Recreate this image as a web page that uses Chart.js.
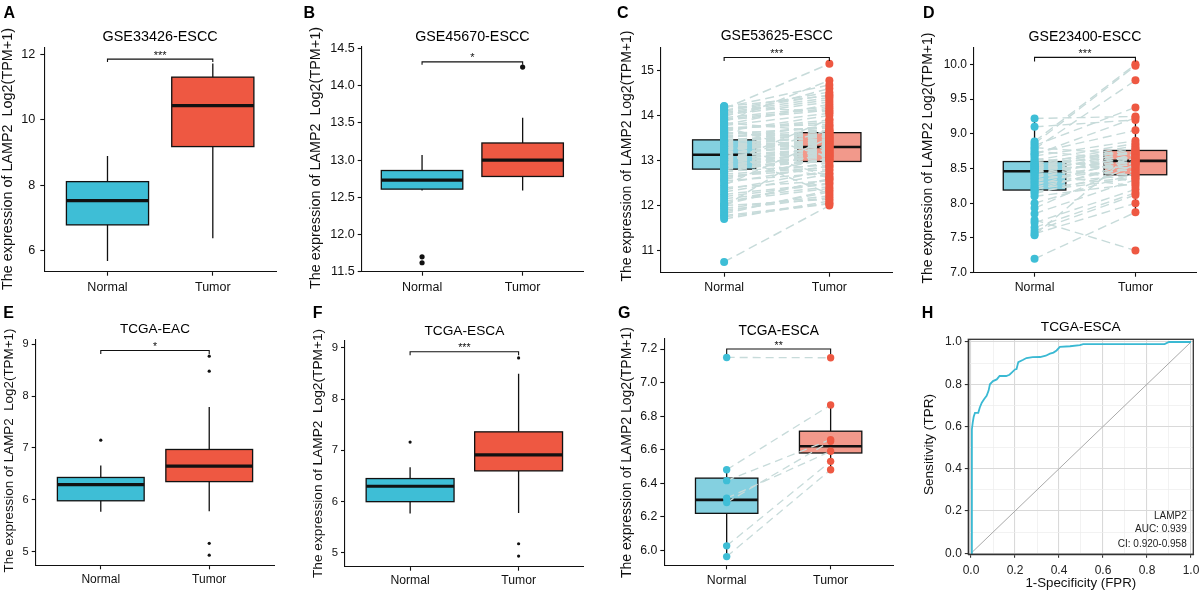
<!DOCTYPE html>
<html lang="en"><head><meta charset="utf-8"><title>LAMP2 expression</title>
<script src="https://cdn.jsdelivr.net/npm/chart.js@4.4.1/dist/chart.umd.min.js"></script>
<style>
html,body{margin:0;padding:0;background:#fff;}
#fig{position:relative;width:1200px;height:593px;overflow:hidden;background:#fff;}
#fig canvas{position:absolute;}
</style></head><body><div id="fig"></div><script>
const FONT = "'Liberation Sans', Arial, Helvetica, sans-serif";
const categories = ['Normal', 'Tumor'];
const categoryPos = [1, 2];

// ---------- Panel A ----------
const titleA = 'GSE33426-ESCC';
const yTicksA = [6, 8, 10, 12];
const yLabelsA = ['6', '8', '10', '12'];
const statsNormalA = [5.69, 6.79, 7.53, 8.11, 8.89];   // whisker low, Q1, median, Q3, whisker high
const statsTumorA = [6.38, 9.18, 10.43, 11.30, 11.72];
const outNormalA = [];
const outTumorA = [];
const sigA = ['***', 11.85, 11.76];

// ---------- Panel B ----------
const titleB = 'GSE45670-ESCC';
const yTicksB = [11.5, 12.0, 12.5, 13.0, 13.5, 14.0, 14.5];
const yLabelsB = ['11.5', '12.0', '12.5', '13.0', '13.5', '14.0', '14.5'];
const statsNormalB = [12.59, 12.61, 12.73, 12.86, 13.07];
const statsTumorB = [12.59, 12.78, 13.00, 13.23, 13.57];
const outNormalB = [11.70, 11.62];
const outTumorB = [14.25];
const sigB = ['*', 14.32, 14.28];

// ---------- Panel C (paired) ----------
const titleC = 'GSE53625-ESCC';
const yTicksC = [11, 12, 13, 14, 15];
const yLabelsC = ['11', '12', '13', '14', '15'];
const statsNormalC = [11.70, 12.81, 13.13, 13.46, 14.21];
const statsTumorC = [12.00, 12.98, 13.30, 13.62, 14.46];
const pairNormalC = [10.75, 11.70, 11.75, 11.82, 11.90, 11.98, 12.05, 12.15, 12.25, 12.35, 12.45, 12.55, 12.62, 12.70, 12.76,
  12.82, 12.84, 12.86, 12.88, 12.90, 12.93, 12.95, 12.97, 13.00, 13.02, 13.04, 13.06, 13.08, 13.10, 13.12,
  13.15, 13.17, 13.19, 13.21, 13.24, 13.26, 13.28, 13.31, 13.33, 13.35, 13.37, 13.39, 13.41, 13.43, 13.45,
  13.50, 13.55, 13.60, 13.65, 13.70, 13.75, 13.80, 13.86, 13.92, 13.98, 14.04, 14.10, 14.15, 14.18, 14.21,
  11.78, 11.86, 11.94, 12.02, 12.10, 12.20, 12.30, 12.40, 12.50, 12.58, 12.66, 12.74, 12.80, 12.85, 12.92,
  12.99, 13.05, 13.11, 13.16, 13.22, 13.27, 13.32, 13.38, 13.44, 13.48, 13.53, 13.58, 13.63, 13.68, 13.73,
  13.78, 13.84, 13.90, 13.95, 14.01, 14.07, 14.12, 14.20, 12.00, 13.00];
const pairTumorC = [12.00, 12.10, 12.04, 12.34, 12.18, 13.41, 12.58, 12.42, 12.50, 12.78, 13.50, 12.72, 12.95, 12.85, 12.90,
  13.03, 12.99, 13.01, 13.10, 13.06, 13.92, 13.16, 13.12, 13.14, 13.22, 13.18, 13.20, 13.28, 13.24, 13.26,
  13.35, 13.31, 13.33, 12.26, 13.37, 13.39, 13.48, 13.43, 13.45, 13.54, 12.65, 13.52, 13.61, 13.56, 13.58,
  13.78, 13.66, 13.72, 14.00, 13.85, 13.08, 14.25, 14.78, 14.16, 14.60, 14.35, 14.46, 15.15, 14.68, 14.08,
  12.05, 12.30, 12.22, 12.60, 12.38, 12.48, 12.70, 12.55, 12.88, 13.05, 12.80, 13.15, 13.00, 13.25, 13.10,
  13.30, 13.20, 12.62, 13.36, 13.44, 13.40, 13.55, 13.30, 13.66, 13.46, 13.60, 13.75, 13.50, 13.90, 13.80,
  14.05, 13.64, 14.12, 14.20, 14.30, 14.40, 14.52, 14.44, 12.14, 13.68];
const sigC = ['***', 15.29, 15.21];

// ---------- Panel D (paired) ----------
const titleD = 'GSE23400-ESCC';
const yTicksD = [7.0, 7.5, 8.0, 8.5, 9.0, 9.5, 10.0];
const yLabelsD = ['7.0', '7.5', '8.0', '8.5', '9.0', '9.5', '10.0'];
const statsNormalD = [7.56, 8.19, 8.46, 8.60, 9.22];
const statsTumorD = [7.87, 8.41, 8.61, 8.76, 9.25];
const pairNormalD = [9.22, 9.10, 8.89, 8.86, 8.83, 8.80, 8.78, 8.75, 8.72, 8.70, 8.68, 8.65, 8.62, 8.60, 8.58,
  8.57, 8.56, 8.55, 8.54, 8.53, 8.52, 8.51, 8.50, 8.49, 8.48, 8.47, 8.46, 8.45, 8.44, 8.42,
  8.40, 8.38, 8.36, 8.34, 8.31, 8.29, 8.26, 8.23, 8.21, 8.19, 8.17, 8.14, 8.10, 8.00, 7.93,
  7.85, 7.76, 7.72, 7.65, 7.60, 7.56, 7.54, 7.20];
const pairTumorD = [9.25, 9.20, 10.00, 9.98, 9.38, 8.70, 9.77, 8.62, 9.05, 9.23, 8.90, 8.45, 8.86, 8.74, 8.66,
  8.31, 8.83, 8.58, 8.72, 8.80, 8.51, 8.64, 8.78, 8.55, 8.69, 8.60, 8.41, 8.75, 8.63, 8.25,
  8.68, 8.57, 8.71, 8.49, 8.61, 8.40, 8.65, 8.53, 8.38, 8.59, 8.36, 8.47, 8.28, 8.43, 8.56,
  8.34, 7.32, 8.20, 8.15, 8.12, 8.00, 8.76, 7.87];
const sigD = ['***', 10.10, 10.04];

// ---------- Panel E ----------
const titleE = 'TCGA-EAC';
const yTicksE = [5, 6, 7, 8, 9];
const yLabelsE = ['5', '6', '7', '8', '9'];
const statsNormalE = [5.77, 5.98, 6.29, 6.43, 6.66];
const statsTumorE = [5.78, 6.35, 6.65, 6.97, 7.79];
const outNormalE = [7.15];
const outTumorE = [8.77, 8.48, 5.16, 4.93];
const sigE = ['*', 8.88, 8.81];

// ---------- Panel F ----------
const titleF = 'TCGA-ESCA';
const yTicksF = [5, 6, 7, 8, 9];
const yLabelsF = ['5', '6', '7', '8', '9'];
const statsNormalF = [5.77, 6.00, 6.30, 6.45, 6.67];
const statsTumorF = [5.78, 6.60, 6.91, 7.36, 8.49];
const outNormalF = [7.16];
const outTumorF = [8.80, 5.18, 4.94];
const sigF = ['***', 8.92, 8.85];

// ---------- Panel G (paired) ----------
const titleG = 'TCGA-ESCA';
const yTicksG = [6.0, 6.2, 6.4, 6.6, 6.8, 7.0, 7.2];
const yLabelsG = ['6.0', '6.2', '6.4', '6.6', '6.8', '7.0', '7.2'];
const statsNormalG = [5.96, 6.22, 6.30, 6.43, 6.48];
const statsTumorG = [6.48, 6.58, 6.62, 6.71, 6.87];
const pairNormalG = [7.15, 6.48, 6.415, 6.31, 6.285, 6.026, 5.962];
const pairTumorG = [7.148, 6.866, 6.66, 6.59, 6.65, 6.53, 6.48];
const sigG = ['**', 7.20, 7.17];

// ---------- Panel H (ROC) ----------
const titleH = 'TCGA-ESCA';
const fprH = [0, 0.004, 0.004, 0.008, 0.012, 0.018, 0.025, 0.033, 0.04, 0.049, 0.06, 0.071, 0.08, 0.086, 0.1, 0.117, 0.13, 0.16, 0.175, 0.185, 0.2, 0.207, 0.215, 0.235, 0.252, 0.28, 0.314, 0.34, 0.359, 0.375, 0.389, 0.404, 0.45, 0.495, 0.51, 0.6, 0.8, 0.88, 0.9, 0.95, 1.0];
const tprH = [0, 0.1, 0.587, 0.62, 0.645, 0.665, 0.665, 0.665, 0.69, 0.713, 0.73, 0.745, 0.77, 0.80, 0.815, 0.823, 0.839, 0.839, 0.845, 0.855, 0.87, 0.872, 0.905, 0.915, 0.924, 0.928, 0.929, 0.935, 0.945, 0.95, 0.96, 0.977, 0.98, 0.985, 0.99, 0.99, 0.99, 0.99, 1.0, 1.0, 1.0];
const diagX = [0, 1];
const diagY = [0, 1];
const rocTicks = [0, 0.1, 0.2, 0.3, 0.4, 0.5, 0.6, 0.7, 0.8, 0.9, 1.0];
const rocLabels = ['0.0', '', '0.2', '', '0.4', '', '0.6', '', '0.8', '', '1.0'];
const rocLegend = ['LAMP2', 'AUC: 0.939', 'CI: 0.920-0.958'];

const yTitleDouble = 'The expression of LAMP2  Log2(TPM+1)';
const yTitleSingle = 'The expression of LAMP2 Log2(TPM+1)';

// ---------- styles & layout ----------
const C_NORMAL = '#3ebed6';
const C_TUMOR = '#ee5842';
const C_NORMAL_SOFT = '#84d0e0';
const C_TUMOR_SOFT = '#f2998b';
const C_PAIR = '#c7dbda';
const C_ROC = '#3ab9d3';

const layout = {
  A: {col:0,row:0,L:44.3,T:48,R:276,B:271.7,yMin:5.36,yMax:12.19,boxW:0.78,fTick:12.6,fX:12.5,fTitle:14.4,titleCY:37,xLabCY:287.7,fY:14.4,yT:[8,159],letter:[3.5,18.3],star:11,outR:0,soft:false,tickPad:5},
  B: {col:1,row:0,L:61.7,T:47,R:283,B:271.7,yMin:11.5,yMax:14.52,boxW:0.81,fTick:12.6,fX:12.5,fTitle:14.3,titleCY:36.7,xLabCY:287.7,fY:14.4,yT:[16.5,158],letter:[3.5,18.3],star:11,outR:2.6,soft:false,tickPad:3},
  C: {col:2,row:0,L:61,T:48,R:292.5,B:272.7,yMin:10.51,yMax:15.5,boxW:0.6,fTick:12,fX:12.3,fTitle:14,titleCY:36,xLabCY:288,fY:14,yT:[27.5,156],letter:[17,18.3],star:11,ptR:4,soft:true,tickPad:3,dash:[9,5],pairW:1.5},
  D: {col:3,row:0,L:74,T:48,R:296.4,B:272.7,yMin:7.0,yMax:10.235,boxW:0.62,fTick:12,fX:12.3,fTitle:14.1,titleCY:37,xLabCY:288,fY:14,yT:[28,158],letter:[23,18.3],star:11,ptR:4,soft:true,tickPad:3,dash:[9,5],pairW:1.4},
  E: {col:0,row:1,L:35.7,T:43.3,R:274.3,B:269.3,yMin:4.735,yMax:9.096,boxW:0.8,fTick:11,fX:12,fTitle:13.5,titleCY:33.7,xLabCY:283.3,fY:13.4,yT:[9,154.5],letter:[3.3,21.7],star:10.5,outR:1.6,soft:false,tickPad:3},
  F: {col:1,row:1,L:45,T:45,R:283.7,B:270.7,yMin:4.733,yMax:9.13,boxW:0.81,fTick:11.3,fX:12.2,fTitle:13.7,titleCY:35,xLabCY:285,fY:13.7,yT:[18,157.5],letter:[12.7,21.7],star:10.5,outR:1.6,soft:false,tickPad:3},
  G: {col:2,row:1,L:64.3,T:43,R:293,B:269.3,yMin:5.91,yMax:7.26,boxW:0.6,fTick:12.3,fX:12.3,fTitle:13.8,titleCY:35.3,xLabCY:284.3,fY:14,yT:[27,156.5],letter:[18,21.7],star:10.5,ptR:3.7,soft:true,tickPad:3,dash:[8,5],pairW:1.3},
  H: {col:3,row:1,L:68.3,T:43.3,R:293.3,B:258.3,xMin:-0.0123,xMax:1.0105,yMin:-0.0047,yMax:1.0128,fTick:12,fTitle:13.7,titleCY:31.3,xLabCY:275,fY:13.6,yT:[29,148.5],xT:[180.8,287.5],fXT:13.3,letter:[21.7,21.7],legendX:286.7,legendY:[220,233.3,248.3],fLeg:10,tickPad:3}
};
const PANEL_W = 300;
const rowTop = [0, 296];
const rowH = [296, 297];
const TICK_LEN = 4;

// ---------- plugins ----------
function textPlugin(items) {
  return { id: 'texts', afterDraw(chart) {
    const ctx = chart.ctx;
    items.forEach(t => {
      ctx.save();
      ctx.font = (t.bold ? 'bold ' : '') + t.size + 'px ' + FONT;
      ctx.fillStyle = t.color || '#000';
      ctx.textAlign = t.align || 'left';
      ctx.textBaseline = t.baseline || 'alphabetic';
      ctx.translate(t.x, t.y);
      if (t.rot) ctx.rotate(t.rot);
      ctx.fillText(t.text, 0, 0);
      ctx.restore();
    });
  }};
}

function boxPlugin(boxes, width, lw, medLw) {
  return { id: 'boxes', beforeDatasetsDraw(chart) {
    const {ctx, scales: {x, y}} = chart;
    ctx.save();
    boxes.forEach(b => {
      const xc = x.getPixelForValue(b.pos);
      const xl = x.getPixelForValue(b.pos - width / 2);
      const xr = x.getPixelForValue(b.pos + width / 2);
      const [lo, q1, med, q3, hi] = b.stats.map(v => y.getPixelForValue(v));
      ctx.strokeStyle = '#111';
      ctx.lineWidth = lw;
      ctx.beginPath();
      ctx.moveTo(xc, hi); ctx.lineTo(xc, q3);
      ctx.moveTo(xc, q1); ctx.lineTo(xc, lo);
      ctx.stroke();
      ctx.fillStyle = b.fill;
      ctx.fillRect(xl, q3, xr - xl, q1 - q3);
      ctx.strokeRect(xl, q3, xr - xl, q1 - q3);
      ctx.lineWidth = medLw;
      ctx.beginPath();
      ctx.moveTo(xl, med); ctx.lineTo(xr, med);
      ctx.stroke();
    });
    ctx.restore();
  }};
}

function sigPlugin(sig, fStar) {
  return { id: 'sig', afterDatasetsDraw(chart) {
    const {ctx, scales: {x, y}} = chart;
    const x1 = x.getPixelForValue(categoryPos[0]), x2 = x.getPixelForValue(categoryPos[1]);
    const yb = y.getPixelForValue(sig[1]), yt = y.getPixelForValue(sig[2]);
    ctx.save();
    ctx.strokeStyle = '#111';
    ctx.lineWidth = 1.1;
    ctx.beginPath();
    ctx.moveTo(x1, yt); ctx.lineTo(x1, yb); ctx.lineTo(x2, yb); ctx.lineTo(x2, yt);
    ctx.stroke();
    ctx.font = fStar + 'px ' + FONT;
    ctx.fillStyle = '#111';
    ctx.textAlign = 'center';
    ctx.textBaseline = 'alphabetic';
    ctx.fillText(sig[0], (x1 + x2) / 2, yb - 0.5);
    ctx.restore();
  }};
}

function framePlugin() {
  return { id: 'frame', afterDatasetsDraw(chart) {
    const {ctx, chartArea: a} = chart;
    ctx.save();
    ctx.strokeStyle = '#333';
    ctx.lineWidth = 1.3;
    ctx.strokeRect(a.left, a.top, a.right - a.left, a.bottom - a.top);
    ctx.restore();
  }};
}

function titleOpts(text, g) {
  return { display: true, text: text, fullSize: false, color: '#000',
    font: {family: FONT, size: g.fTitle, weight: 'normal', lineHeight: 1},
    padding: {top: g.titleCY - g.fTitle / 2, bottom: g.T - g.titleCY - g.fTitle / 2} };
}

function scaleX(g, H, ticks, labels, min, max) {
  return {
    type: 'linear', min: min, max: max, bounds: 'data',
    afterBuildTicks: s => { s.ticks = ticks.map(v => ({value: v})); },
    afterFit: s => { s.height = H - g.B; s.paddingLeft = 0; s.paddingRight = 0; },
    ticks: { autoSkip: false, maxRotation: 0, minRotation: 0, color: '#111',
      font: {family: FONT, size: g.fX || g.fTick},
      padding: g.xLabCY - g.B - TICK_LEN - 0.6 * (g.fX || g.fTick),
      callback: (v, i) => labels[i] },
    grid: { drawOnChartArea: false, drawTicks: true, tickLength: TICK_LEN, tickColor: '#111', tickWidth: 1.1 },
    border: { display: true, color: '#111', width: 1.1 }
  };
}

function scaleY(g, ticks, labels) {
  return {
    type: 'linear', min: g.yMin, max: g.yMax, bounds: 'data',
    afterBuildTicks: s => { s.ticks = ticks.map(v => ({value: v})); },
    afterFit: s => { s.width = g.L; s.paddingTop = 0; s.paddingBottom = 0; },
    ticks: { autoSkip: false, color: '#111', font: {family: FONT, size: g.fTick}, padding: g.tickPad,
      callback: (v, i) => labels[i] },
    grid: { drawOnChartArea: false, drawTicks: true, tickLength: TICK_LEN, tickColor: '#111', tickWidth: 1.1 },
    border: { display: true, color: '#111', width: 1.1 }
  };
}

function mount(g, config) {
  const c = document.createElement('canvas');
  const H = rowH[g.row];
  c.width = PANEL_W; c.height = H;
  c.style.left = (g.col * PANEL_W) + 'px';
  c.style.top = rowTop[g.row] + 'px';
  c.style.width = PANEL_W + 'px';
  c.style.height = H + 'px';
  document.getElementById('fig').appendChild(c);
  return new Chart(c, config);
}

function boxPanel(key, d) {
  const g = layout[key];
  const H = rowH[g.row];
  const datasets = [];
  if (d.pairN) {
    d.pairN.forEach((v, i) => datasets.push({
      data: [{x: categoryPos[0], y: v}, {x: categoryPos[1], y: d.pairT[i]}],
      showLine: true, borderColor: C_PAIR, borderWidth: g.pairW, borderDash: g.dash,
      pointRadius: 0, order: 2
    }));
    datasets.push({ data: d.pairN.map(v => ({x: categoryPos[0], y: v})), pointRadius: g.ptR,
      pointBackgroundColor: C_NORMAL, pointBorderWidth: 0, order: 0 });
    datasets.push({ data: d.pairT.map(v => ({x: categoryPos[1], y: v})), pointRadius: g.ptR,
      pointBackgroundColor: C_TUMOR, pointBorderWidth: 0, order: 0 });
  }
  if (d.outN && d.outN.length) datasets.push({ data: d.outN.map(v => ({x: categoryPos[0], y: v})),
    pointRadius: g.outR, pointBackgroundColor: '#111', pointBorderWidth: 0, order: 0 });
  if (d.outT && d.outT.length) datasets.push({ data: d.outT.map(v => ({x: categoryPos[1], y: v})),
    pointRadius: g.outR, pointBackgroundColor: '#111', pointBorderWidth: 0, order: 0 });

  const boxes = [
    {pos: categoryPos[0], stats: d.statsN, fill: g.soft ? C_NORMAL_SOFT : C_NORMAL},
    {pos: categoryPos[1], stats: d.statsT, fill: g.soft ? C_TUMOR_SOFT : C_TUMOR}
  ];
  const texts = [
    {text: key, x: g.letter[0], y: g.letter[1], size: 16, bold: true},
    {text: d.yTitle, x: g.yT[0], y: g.yT[1], size: g.fY, rot: -Math.PI / 2, align: 'center', baseline: 'middle', color: '#111'}
  ];
  mount(g, {
    type: 'scatter',
    data: { datasets: datasets },
    options: {
      responsive: false, animation: false, events: [],
      layout: { padding: {left: 0, top: 0, bottom: 0, right: PANEL_W - g.R} },
      scales: {
        x: scaleX(g, H, categoryPos, categories, 0.4, 2.6),
        y: scaleY(g, d.yTicks, d.yLabels)
      },
      plugins: { legend: {display: false}, tooltip: {enabled: false}, title: titleOpts(d.title, g) }
    },
    plugins: [boxPlugin(boxes, g.boxW, 1.3, g.soft ? 2.6 : 3.2), sigPlugin(d.sig, g.star), textPlugin(texts)]
  });
}

boxPanel('A', {title: titleA, yTicks: yTicksA, yLabels: yLabelsA, statsN: statsNormalA, statsT: statsTumorA, outN: outNormalA, outT: outTumorA, sig: sigA, yTitle: yTitleDouble});
boxPanel('B', {title: titleB, yTicks: yTicksB, yLabels: yLabelsB, statsN: statsNormalB, statsT: statsTumorB, outN: outNormalB, outT: outTumorB, sig: sigB, yTitle: yTitleDouble});
boxPanel('C', {title: titleC, yTicks: yTicksC, yLabels: yLabelsC, statsN: statsNormalC, statsT: statsTumorC, pairN: pairNormalC, pairT: pairTumorC, sig: sigC, yTitle: yTitleSingle});
boxPanel('D', {title: titleD, yTicks: yTicksD, yLabels: yLabelsD, statsN: statsNormalD, statsT: statsTumorD, pairN: pairNormalD, pairT: pairTumorD, sig: sigD, yTitle: yTitleSingle});
boxPanel('E', {title: titleE, yTicks: yTicksE, yLabels: yLabelsE, statsN: statsNormalE, statsT: statsTumorE, outN: outNormalE, outT: outTumorE, sig: sigE, yTitle: yTitleDouble});
boxPanel('F', {title: titleF, yTicks: yTicksF, yLabels: yLabelsF, statsN: statsNormalF, statsT: statsTumorF, outN: outNormalF, outT: outTumorF, sig: sigF, yTitle: yTitleDouble});
boxPanel('G', {title: titleG, yTicks: yTicksG, yLabels: yLabelsG, statsN: statsNormalG, statsT: statsTumorG, pairN: pairNormalG, pairT: pairTumorG, sig: sigG, yTitle: yTitleSingle});

// ROC panel
(function () {
  const g = layout.H;
  const H = rowH[g.row];
  const isMajor = c => Math.round(c.tick.value * 10) % 2 === 0;
  const gridOpts = {
    drawOnChartArea: true, drawTicks: true, tickLength: 3.5,
    color: c => isMajor(c) ? '#d9d9d9' : '#ececec',
    lineWidth: c => isMajor(c) ? 1.1 : 0.7,
    tickColor: c => isMajor(c) ? '#333' : 'rgba(0,0,0,0)',
    tickWidth: 1.1
  };
  const xs = scaleX(g, H, rocTicks, rocLabels, g.xMin, g.xMax);
  xs.grid = gridOpts;
  xs.border = {display: true, color: '#333', width: 1.3};
  xs.ticks.color = '#222';
  xs.ticks.padding = g.xLabCY - g.B - 3.5 - 0.6 * g.fTick;
  const ys = scaleY(g, rocTicks, rocLabels);
  ys.grid = gridOpts;
  ys.border = {display: true, color: '#333', width: 1.3};
  ys.ticks.color = '#222';
  const texts = [
    {text: 'H', x: g.letter[0], y: g.letter[1], size: 16, bold: true},
    {text: 'Sensitivity (TPR)', x: g.yT[0], y: g.yT[1], size: g.fY, rot: -Math.PI / 2, align: 'center', baseline: 'middle', color: '#111'},
    {text: '1-Specificity (FPR)', x: g.xT[0], y: g.xT[1], size: g.fXT, align: 'center', baseline: 'middle', color: '#111'}
  ];
  rocLegend.forEach((t, i) => texts.push({text: t, x: g.legendX, y: g.legendY[i], size: g.fLeg, align: 'right', baseline: 'middle', color: '#222'}));
  mount(g, {
    type: 'scatter',
    data: { datasets: [
      { data: fprH.map((v, i) => ({x: v, y: tprH[i]})), showLine: true, borderColor: C_ROC, borderWidth: 1.8, pointRadius: 0, order: 0, tension: 0 },
      { data: diagX.map((v, i) => ({x: v, y: diagY[i]})), showLine: true, borderColor: '#a9a9a9', borderWidth: 1, pointRadius: 0, order: 1 }
    ]},
    options: {
      responsive: false, animation: false, events: [],
      layout: { padding: {left: 0, top: 0, bottom: 0, right: PANEL_W - g.R} },
      scales: { x: xs, y: ys },
      plugins: { legend: {display: false}, tooltip: {enabled: false}, title: titleOpts(titleH, g) }
    },
    plugins: [framePlugin(), textPlugin(texts)]
  });
})();
</script></body></html>
